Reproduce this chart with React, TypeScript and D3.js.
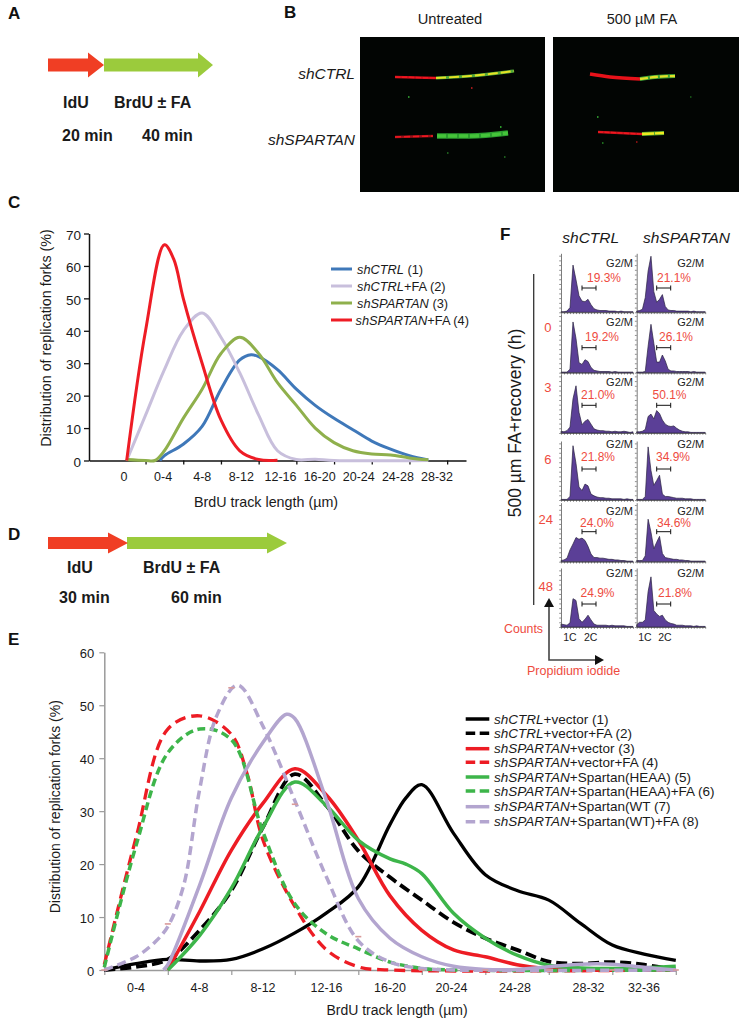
import React, { useEffect, useRef } from 'react';
import * as d3 from 'd3';

type Pt = [number, number];

// Panel C: x is the position on the category axis (0 = "0", 1 = "0-4", ...), y is %
const cLabels = ['0', '0-4', '4-8', '8-12', '12-16', '16-20', '20-24', '24-28', '28-32'];
const cYTicks = [0, 10, 20, 30, 40, 50, 60, 70];
const cTickPos = [0.5, 1.5, 2.5, 3.5, 4.5, 5.5, 6.5, 7.5, 8.5];
const cShCtrl: Pt[] = [[0.88, 0], [1, 1.5], [1.5, 5], [2, 10.5], [2.5, 22], [3, 31], [3.3, 32.6], [3.5, 32], [4, 28], [4.5, 22], [5, 17], [5.5, 13], [6, 9.5], [6.5, 6], [7, 3.5], [7.5, 1.5], [8, 0.2]];
const cShCtrlFa: Pt[] = [[0, 0], [0.5, 14], [1, 28], [1.5, 40], [2, 45.5], [2.5, 38], [3, 27], [3.5, 14], [4, 3], [4.5, 0.3], [5, 0.4], [5.5, 0], [8, 0]];
const cShSpartan: Pt[] = [[0, 0.3], [0.5, 0], [0.75, 0], [1, 3], [1.5, 13], [2, 22], [2.5, 33], [3, 38], [3.5, 33], [4, 24], [4.5, 17], [5, 10], [5.5, 5.5], [6, 3], [6.5, 2], [7, 1.7], [7.5, 0.8], [8, 0.2]];
const cShSpartanFa: Pt[] = [[0, 0], [0.5, 40], [1, 66.5], [1.25, 62], [1.5, 50], [2, 30], [2.5, 12.5], [3, 3], [3.5, 0.3], [4, 0.1]];
const cLegendNames = ['shCTRL', 'shCTRL', 'shSPARTAN', 'shSPARTAN'];
const cLegendSuffix = [' (1)', '+FA (2)', ' (3)', '+FA (4)'];
const cColors = ['#3f78b9', '#c8bfdc', '#8fb04c', '#ee1c25'];

// Panel E: x is in tick intervals from the y axis, y is %
const eLabels = ['0-4', '4-8', '8-12', '12-16', '16-20', '20-24', '24-28', '28-32', '32-36'];
const eYTicks = [0, 10, 20, 30, 40, 50, 60];
const eTicks = [0, 1, 2, 3, 4, 5, 6, 7, 8, 9];
const eCtrl: Pt[] = [[0, 0], [0.5, 1.2], [1, 2], [1.5, 1.7], [2, 2], [2.5, 4], [3, 7], [3.5, 10.8], [4, 15.7], [4.5, 27.5], [4.75, 32.5], [5, 35], [5.5, 25.8], [6, 18], [6.5, 15], [7, 13.2], [7.5, 8.8], [8, 4.7], [8.5, 3], [9, 1.8]];
const eCtrlFa: Pt[] = [[0, 0], [0.5, 0.6], [1, 2], [1.5, 7.5], [2, 15], [2.5, 27], [3, 37], [3.5, 31], [4, 22.5], [4.5, 17.5], [5, 13.2], [5.5, 9], [6, 6], [6.5, 3.8], [7, 1.6], [7.5, 1.2], [8, 1.5], [8.5, 1], [9, 0]];
const eSpartan: Pt[] = [[1, 0], [1.5, 11], [2, 22.6], [2.5, 31.5], [3, 38], [3.5, 33], [4, 24.5], [4.5, 14], [5, 7.5], [5.5, 3.8], [6, 2.5], [6.5, 1], [7, 0.2], [7.5, 0], [9, 0]];
const eSpartanFa: Pt[] = [[0, 1], [0.5, 25], [1, 45.5], [1.5, 48], [2, 44.5], [2.25, 37], [2.5, 24.5], [3, 12], [3.5, 3.8], [4, 0.6], [4.5, 0], [9, 0]];
const eHeaa: Pt[] = [[1, 0], [1.5, 6.5], [2, 15.4], [2.5, 27], [3, 35.5], [3.5, 31], [4, 24.5], [4.5, 21], [4.75, 20], [5, 18.2], [5.5, 10.7], [6, 6], [6.5, 2.8], [7, 0.9], [7.5, 0.4], [8, 0.3], [8.5, 0.4], [9, 0.7]];
const eHeaaFa: Pt[] = [[0, 0.5], [0.5, 23.5], [1, 41], [1.5, 45.5], [2, 43.5], [2.5, 26], [3, 12.5], [3.5, 6.8], [4, 4], [4.5, 1.5], [5, 0.3], [5.5, 0], [9, 0]];
const eWt: Pt[] = [[0.93, 0], [1, 1], [1.5, 16], [2, 32.5], [2.5, 43], [2.87, 48.3], [3, 47.5], [3.5, 32], [4, 13.5], [4.5, 6], [5, 2.5], [5.5, 0.7], [6, 0.1], [6.5, 0.1], [7, 0.6], [7.5, 1.1], [8, 1.1], [8.5, 0.5], [9, 0]];
const eWtFa: Pt[] = [[0, 0], [0.5, 2.5], [0.8, 5.3], [1, 8.2], [1.25, 16], [1.5, 34], [1.77, 48], [2.1, 53.8], [2.5, 46], [3, 32], [3.5, 17.5], [4, 5.5], [4.5, 1.5], [5, 0.3], [5.5, 0], [9, 0]];
const eResidual: Pt[] = [[0, 0], [1, 8.7], [2, 53.3], [3, 31.3], [4, 6.3], [5, 0], [6, 0], [7, 0], [8, 0], [9, 0]];
const eLegendNames = ['shCTRL', 'shCTRL', 'shSPARTAN', 'shSPARTAN', 'shSPARTAN', 'shSPARTAN', 'shSPARTAN', 'shSPARTAN'];
const eLegendSuffix = ['+vector (1)', '+vector+FA (2)', '+vector (3)', '+vector+FA (4)', '+Spartan(HEAA) (5)', '+Spartan(HEAA)+FA (6)', '+Spartan(WT (7)', '+Spartan(WT)+FA (8)'];
const eColors = ['#000000', '#000000', '#ed1c24', '#ed1c24', '#3db54a', '#3db54a', '#b3a5cf', '#b3a5cf'];

// Panel F: counts per channel, every 3 channels, percent of the panel height
const fChannels = d3.range(0, 73, 3);
const fCtrl = [
  [1, 1, 2, 8, 80, 55, 28, 19, 18, 22, 13, 6, 4, 3, 3, 3, 2, 2, 2, 1, 2, 1, 1, 1, 1],
  [1, 1, 1, 6, 86, 58, 17, 14, 22, 19, 9, 4, 3, 2, 2, 2, 2, 1, 2, 1, 1, 1, 1, 1, 1],
  [3, 2, 4, 10, 58, 80, 35, 14, 20, 23, 15, 7, 5, 4, 4, 3, 3, 2, 3, 2, 2, 3, 2, 1, 2],
  [1, 1, 1, 6, 92, 62, 22, 16, 27, 24, 10, 7, 5, 4, 4, 3, 3, 2, 2, 2, 2, 1, 2, 1, 1],
  [2, 3, 6, 20, 30, 41, 38, 40, 36, 26, 13, 7, 7, 6, 6, 5, 4, 4, 3, 3, 2, 2, 1, 1, 1],
  [5, 4, 3, 7, 48, 45, 14, 8, 13, 20, 12, 5, 3, 3, 3, 3, 2, 3, 2, 2, 2, 2, 1, 1, 1],
];
const fSpartan = [
  [2, 3, 5, 25, 70, 95, 35, 17, 22, 30, 10, 4, 3, 3, 2, 2, 2, 2, 2, 1, 2, 1, 1, 1, 1],
  [1, 1, 1, 2, 45, 82, 50, 18, 18, 30, 20, 6, 3, 3, 2, 2, 2, 2, 2, 1, 2, 1, 1, 1, 1],
  [2, 2, 3, 6, 28, 32, 24, 38, 33, 22, 15, 12, 11, 12, 8, 5, 3, 2, 2, 1, 1, 1, 1, 1, 1],
  [1, 1, 1, 6, 90, 50, 25, 33, 42, 10, 6, 6, 5, 4, 3, 3, 3, 2, 2, 2, 1, 1, 1, 1, 1],
  [2, 2, 2, 10, 72, 50, 22, 33, 43, 14, 7, 6, 5, 4, 4, 3, 3, 2, 2, 1, 1, 1, 1, 1, 1],
  [4, 8, 8, 12, 60, 85, 28, 22, 18, 20, 12, 8, 6, 5, 3, 3, 3, 2, 2, 2, 1, 2, 1, 1, 1],
];
const fCtrlPct = ['19.3%', '19.2%', '21.0%', '21.8%', '24.0%', '24.9%'];
const fSpartanPct = ['21.1%', '26.1%', '50.1%', '34.9%', '34.6%', '21.8%'];
const fHours = ['0', '3', '6', '24', '48'];

const SANS = '"Liberation Sans", Arial, sans-serif';

export default function App() {
  const svgRef = useRef<SVGSVGElement>(null);

  useEffect(() => {
    if (!svgRef.current) return;
    const svg = d3.select(svgRef.current);
    svg.selectAll('*').remove();

    const text = (x: number, y: number, s: string, size: number, opts: any = {}) =>
      svg.append('text')
        .attr('x', x)
        .attr('y', y)
        .attr('font-size', size)
        .attr('font-weight', opts.weight || 'normal')
        .attr('font-style', opts.italic ? 'italic' : 'normal')
        .attr('text-anchor', opts.anchor || 'start')
        .attr('fill', opts.fill || '#1a1a1a')
        .attr('transform', opts.rotate ? `rotate(-90 ${x} ${y})` : null)
        .text(s);

    // Panel letters
    ([['A', 8, 18.5], ['B', 284, 18], ['C', 8, 208], ['D', 8, 540], ['E', 8, 645], ['F', 500, 240]] as [string, number, number][])
      .forEach(([s, x, y]) => text(x, y, s, 17, { weight: 'bold', fill: '#111' }));

    // Labelling scheme arrows (A and D)
    const schemeArrow = (x0: number, x1: number, y: number, fill: string, head: number, body: number, wing: number) => {
      const path = d3.path();
      path.moveTo(x0, y - body);
      path.lineTo(x1 - head, y - body);
      path.lineTo(x1 - head, y - wing);
      path.lineTo(x1, y);
      path.lineTo(x1 - head, y + wing);
      path.lineTo(x1 - head, y + body);
      path.lineTo(x0, y + body);
      path.closePath();
      svg.append('path').attr('d', path.toString()).attr('fill', fill);
    };
    schemeArrow(104, 213, 65, '#9bcb3c', 15, 6.5, 12.5);
    schemeArrow(48, 104, 65, '#f03e24', 16, 6.5, 12.5);
    text(63, 107.5, 'IdU', 16, { weight: 'bold' });
    text(114, 107.5, 'BrdU ± FA', 16, { weight: 'bold' });
    text(62, 141, '20 min', 16, { weight: 'bold' });
    text(142, 141, '40 min', 16, { weight: 'bold' });

    schemeArrow(127, 287, 543, '#9bcb3c', 20, 6, 10.5);
    schemeArrow(48, 128, 543, '#f03e24', 20, 6, 10.5);
    text(67, 573, 'IdU', 16, { weight: 'bold' });
    text(143, 573, 'BrdU ± FA', 16, { weight: 'bold' });
    text(59, 602.7, '30 min', 16, { weight: 'bold' });
    text(171, 602.7, '60 min', 16, { weight: 'bold' });

    // Panel B micrographs
    svg.append('rect').attr('x', 360).attr('y', 37).attr('width', 185).attr('height', 155).attr('fill', '#020503');
    svg.append('rect').attr('x', 553).attr('y', 37).attr('width', 186).attr('height', 155).attr('fill', '#020503');
    text(450, 24, 'Untreated', 14.7, { anchor: 'middle' });
    text(642, 24, '500 µM FA', 14.5, { anchor: 'middle' });
    text(355, 79, 'shCTRL', 15.5, { italic: true, anchor: 'end' });
    text(355, 145, 'shSPARTAN', 15.5, { italic: true, anchor: 'end' });

    const fibre = (pts: Pt[], base: string, w: number, over?: string, dash?: string) => {
      const d = d3.line().curve(d3.curveMonotoneX)(pts);
      svg.append('path').attr('d', d).attr('fill', 'none').attr('stroke', base).attr('stroke-width', w);
      if (over) {
        svg.append('path').attr('d', d).attr('fill', 'none').attr('stroke', over)
          .attr('stroke-width', w * 0.6).attr('stroke-dasharray', dash || '7 3');
      }
    };
    fibre([[395, 77], [436, 78]], '#d8101c', 2.4, '#f01820', '5 2');
    fibre([[436, 78], [470, 76], [514, 71]], '#52a838', 3.2, '#e6e224', '10 3');
    fibre([[395, 137], [433, 136]], '#a01018', 2.6, '#ee1820', '6 3');
    fibre([[437, 136], [470, 136], [508, 133]], '#2b9c30', 5.5, '#45c43a', '9 2');
    fibre([[590, 74], [610, 77], [640, 79]], '#e8121a', 3.6);
    fibre([[640, 79], [655, 77], [675, 76]], '#3fa636', 3.8, '#e2e028', '8 2');
    fibre([[598, 132], [620, 133], [642, 134]], '#c8121a', 2.4, '#f01820', '5 1.5');
    fibre([[642, 134], [664, 133]], '#55a830', 4, '#eeea20', '12 1');
    ([[408, 96, '#2a8a2a'], [471, 87, '#a01818'], [500, 126, '#2a9a2a'], [597, 116, '#2a8a2a'], [447, 152, '#1c5c1c'], [504, 156, '#1c5c1c'], [602, 142, '#1c6c1c'], [636, 141, '#801010'], [690, 96, '#144c14']] as [number, number, string][])
      .forEach(([x, y, c]) => svg.append('rect').attr('x', x).attr('y', y).attr('width', 1.5).attr('height', 2).attr('fill', c));

    // Panel C
    const cx = d3.scaleLinear().domain([-1, 9]).range([89, 466]);
    const cy = d3.scaleLinear().domain([0, 70]).range([460.5, 233.5]);
    const cLabelX = d3.scaleLinear().domain([0, 8]).range([124, 437]);
    const smooth = d3.curveCatmullRom.alpha(0.5);
    const cLine = d3.line<Pt>().x(d => cx(d[0])).y(d => Math.min(cy(0), cy(d[1]))).curve(smooth);

    const cYAxis = svg.append('g')
      .attr('transform', `translate(${cx(-1)},0)`)
      .call(d3.axisLeft(cy).tickValues(cYTicks).tickSize(5).tickSizeOuter(0).tickFormat(d3.format('d')) as any);
    const cXAxis = svg.append('g')
      .attr('transform', `translate(0,${cy(0)})`)
      .call(d3.axisBottom(cx).tickValues(cTickPos).tickSize(4).tickSizeOuter(0).tickFormat(() => '') as any);
    [cYAxis, cXAxis].forEach(a => {
      a.selectAll('line').attr('stroke', '#111').attr('stroke-width', 1.3);
      a.select('.domain').attr('stroke', '#111').attr('stroke-width', 1.5);
    });
    cYAxis.selectAll('text').attr('font-size', 13.5).attr('font-family', SANS).attr('fill', '#1a1a1a').attr('dy', '0.42em');

    cLabels.forEach((s, i) => text(cLabelX(i), 481, s, 12.5, { anchor: 'middle' }));
    text(266, 507, 'BrdU track length (µm)', 14.3, { anchor: 'middle' });
    text(51, 338, 'Distribution of replication forks (%)', 14.3, { anchor: 'middle', rotate: true });

    [cShCtrl, cShCtrlFa, cShSpartan, cShSpartanFa].forEach((pts, i) => {
      svg.append('path').attr('d', cLine(pts)).attr('fill', 'none').attr('stroke', cColors[i]).attr('stroke-width', 3);
    });

    const cLegendY = d3.scalePoint<number>().domain([0, 1, 2, 3]).range([269, 320]);
    cLegendNames.forEach((name, i) => {
      const y = cLegendY(i)!;
      svg.append('line').attr('x1', 331).attr('x2', 352).attr('y1', y).attr('y2', y).attr('stroke', cColors[i]).attr('stroke-width', 3);
      const t = text(i === 3 ? 355.5 : 357, y + 4.6, '', 12.8);
      t.append('tspan').attr('font-style', 'italic').text(name);
      t.append('tspan').text(cLegendSuffix[i]);
    });

    // Panel E
    const ex = d3.scaleLinear().domain([0, 9]).range([104.3, 675.8]);
    const ey = d3.scaleLinear().domain([0, 60]).range([970, 652.3]);
    const eLine = d3.line<Pt>().x(d => ex(d[0])).y(d => Math.min(ey(0), ey(d[1]))).curve(smooth);
    const eDash = [null, '11 5', null, '11 6', null, '8 4.5', null, '9 5'];
    const eWidths = [3.3, 3.8, 3.5, 3.3, 3.5, 3.5, 3.5, 3.5];

    const eYAxis = svg.append('g')
      .attr('transform', `translate(${ex(0)},0)`)
      .call(d3.axisLeft(ey).tickValues(eYTicks).tickSize(5).tickSizeOuter(0).tickFormat(d3.format('d')) as any);
    const eXAxis = svg.append('g')
      .attr('transform', `translate(0,${ey(0)})`)
      .call(d3.axisBottom(ex).tickValues(eTicks).tickSize(5).tickSizeOuter(0).tickFormat(() => '') as any);
    [eYAxis, eXAxis].forEach(a => {
      a.selectAll('line').attr('stroke', '#9a9a9a').attr('stroke-width', 1.2);
      a.select('.domain').attr('stroke', '#9a9a9a').attr('stroke-width', 1.5);
    });
    eYAxis.selectAll('text').attr('font-size', 13).attr('font-family', SANS).attr('fill', '#1a1a1a').attr('dy', '0.42em').attr('x', -10);

    eLabels.forEach((s, i) => text(ex(i + 0.5) + (s === '28-32' ? 8 : 0) - (s === '24-28' || s === '20-24' ? 2 : 0), 992, s, 12.5, { anchor: 'middle' }));
    text(397, 1015, 'BrdU track length (µm)', 14, { anchor: 'middle' });
    text(60, 806.7, 'Distribution of replication forks (%)', 14, { anchor: 'middle', rotate: true });

    [eCtrl, eCtrlFa, eSpartan, eSpartanFa, eHeaa, eHeaaFa, eWt, eWtFa].forEach((pts, i) => {
      svg.append('path')
        .attr('d', eLine(pts))
        .attr('fill', 'none')
        .attr('stroke', eColors[i])
        .attr('stroke-width', eWidths[i])
        .attr('stroke-dasharray', eDash[i]);
    });
    svg.append('g').selectAll('rect').data(eResidual).join('rect')
      .attr('x', d => ex(d[0]) - 3)
      .attr('y', d => ey(d[1]) - 0.8)
      .attr('width', 6)
      .attr('height', 1.6)
      .attr('fill', '#d99a9a');

    const eLegendY = [719, 733.3, 748.7, 762.3, 777, 791, 806.7, 821.7];
    eLegendNames.forEach((name, i) => {
      const y = eLegendY[i];
      svg.append('line').attr('x1', 465.7).attr('x2', 489.3).attr('y1', y).attr('y2', y)
        .attr('stroke', eColors[i]).attr('stroke-width', 3.5).attr('stroke-dasharray', eDash[i] ? '9.5 4.5' : null);
      const t = text(494, y + 4.6, '', 13.5);
      t.append('tspan').attr('font-style', 'italic').text(name);
      t.append('tspan').text(eLegendSuffix[i]);
    });

    // Panel F
    const rowTop = [253, 313, 374, 440, 503, 566.7];
    const rowBottom = [312.3, 372.7, 433, 500, 561.7, 627];
    const gmDy = [13.7, 13, 11.7, 8, 12, 10.6];
    const pctDy = [29, 28, 25, 21, 23.7, 30];
    const barDy = [35, 34.7, 31.3, 29, 28.7, 37.3];
    const pctX = [[604, 674], [602, 676], [598, 669.5], [598, 673], [597, 674], [597.5, 675]];
    const colX = [561, 636.7];
    const colW = [72, 68.5];
    const area = d3.area<number>();

    [fCtrl, fSpartan].forEach((col, c) => {
      col.forEach((vals, r) => {
        const x = d3.scaleLinear().domain([0, 72]).range([colX[c], colX[c] + colW[c]]);
        const y = d3.scaleLinear().domain([0, 100]).range([rowBottom[r], rowBottom[r] - 59]);
        area.x((_, i) => x(fChannels[i])).y0(y(0)).y1(d => y(d));
        svg.append('path').attr('d', area(vals)).attr('fill', '#5b3f97').attr('stroke', '#2a2240').attr('stroke-width', 0.7);

        const left = svg.append('g').attr('transform', `translate(${colX[c]},0)`)
          .call(d3.axisLeft(y).tickValues(d3.range(0, 101, 8)).tickSize(1.8).tickSizeOuter(0).tickFormat(() => '') as any);
        const bottom = svg.append('g').attr('transform', `translate(0,${y(0)})`)
          .call(d3.axisBottom(x).tickValues(fChannels).tickSize(1.8).tickSizeOuter(0).tickFormat(() => '') as any);
        [left, bottom].forEach(a => {
          a.selectAll('line').attr('stroke', '#444').attr('stroke-width', 0.6);
          a.select('.domain').attr('stroke', '#444').attr('stroke-width', 0.7);
        });

        const top = rowTop[r];
        text(colX[c] + colW[c] - (c ? 1 : 0), top + gmDy[r], 'G2/M', 11, { anchor: 'end', fill: '#222' });
        text(pctX[r][c], top + pctDy[r], (c ? fSpartanPct : fCtrlPct)[r], 12, { anchor: 'middle', fill: '#ee4b3e' });

        const bx0 = colX[c] + (c ? 20 : 21);
        const bx1 = bx0 + 14;
        const by = top + barDy[r];
        const bar = d3.path();
        bar.moveTo(bx0, by); bar.lineTo(bx1, by);
        bar.moveTo(bx0, by - 2.5); bar.lineTo(bx0, by + 2.5);
        bar.moveTo(bx1, by - 2.5); bar.lineTo(bx1, by + 2.5);
        svg.append('path').attr('d', bar.toString()).attr('fill', 'none').attr('stroke', '#111').attr('stroke-width', 1);
      });
    });

    text(590.7, 242.7, 'shCTRL', 15.5, { italic: true, anchor: 'middle' });
    text(643, 242.7, 'shSPARTAN', 15.5, { italic: true });
    svg.append('line').attr('x1', 533.7).attr('x2', 533.7).attr('y1', 274).attr('y2', 605).attr('stroke', '#333').attr('stroke-width', 1.3);
    text(521, 423, '500 µm FA+recovery (h)', 17.5, { anchor: 'middle', rotate: true });

    const hourY = [332, 392, 464, 524, 591];
    fHours.forEach((h, i) => text(i < 3 ? 551.5 : 553, hourY[i], h, 13, { anchor: 'end', fill: '#ee4b3e' }));

    ([[570, '1C'], [590.7, '2C'], [645, '1C'], [665, '2C']] as [number, string][])
      .forEach(([x, s]) => text(x, 641, s, 10.5, { anchor: 'middle', fill: '#222' }));

    svg.append('path').attr('d', 'M549,605 L549,660 L598,660').attr('fill', 'none').attr('stroke', '#444').attr('stroke-width', 1.6);
    svg.append('path').attr('d', d3.line()([[549, 598], [544, 607], [554, 607]]) + 'Z').attr('fill', '#111');
    svg.append('path').attr('d', d3.line()([[604, 660], [595, 655], [595, 665]]) + 'Z').attr('fill', '#111');
    text(504, 633, 'Counts', 12.3, { fill: '#ee4b3e' });
    text(527, 675, 'Propidium iodide', 12.5, { fill: '#ee4b3e' });
  }, []);

  return (
    <svg
      ref={svgRef}
      width={742}
      height={1022}
      style={{ position: 'absolute', left: 0, top: 0, background: '#fff', fontFamily: SANS }}
    />
  );
}
